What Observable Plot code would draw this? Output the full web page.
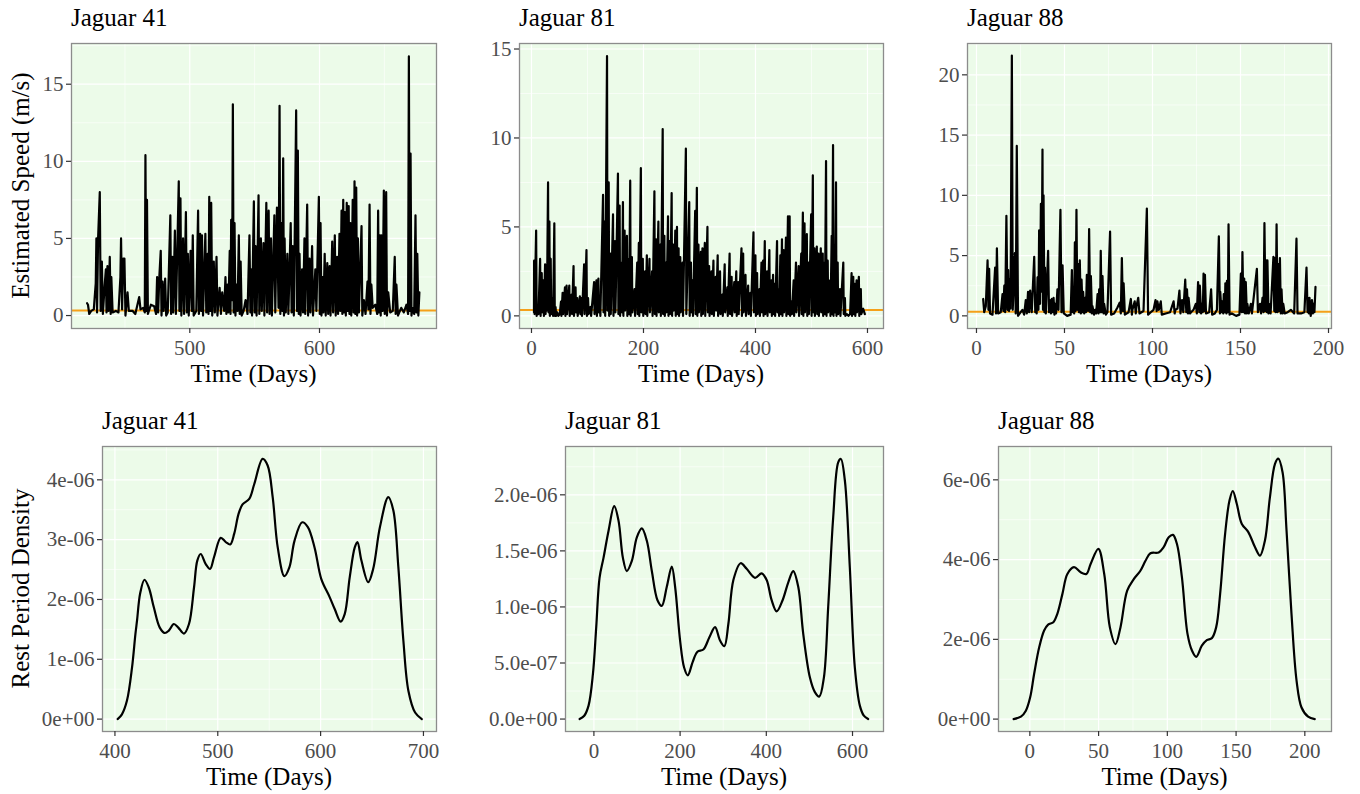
<!DOCTYPE html>
<html>
<head>
<meta charset="utf-8">
<script src="https://cdn.jsdelivr.net/npm/d3@7"></script>
<script src="https://cdn.jsdelivr.net/npm/@observablehq/plot@0.6"></script>
<style>
  html, body { margin: 0; padding: 0; background: #ffffff; }
  #root { position: relative; width: 1360px; height: 794px; overflow: hidden; font-family: "Liberation Serif", "Times New Roman", serif; }
  .cell { position: absolute; }
  .cell svg { overflow: visible; max-width: none; }
  .txt { position: absolute; font-family: "Liberation Serif", "Times New Roman", serif; color: #000; line-height: 1; white-space: nowrap; }
</style>
</head>
<body>
<div id="root"></div>
<script>
// ---------------- DATA ----------------
const titles = ["Jaguar 41", "Jaguar 81", "Jaguar 88"];
const xTitle = "Time (Days)";
const speedTitle = "Estimated Speed (m/s)";
const densityTitle = "Rest Period Density";
const restThreshold = 0.33; // orange reference line (m/s)

// Estimated speed, [day, m/s]
const jaguar41Speed = [[420.8,0.8],[421.5,0.7],[422.5,0.1],[424,0.3],[426,0.4],[427.5,2.1],[428,5.0],[428.5,0.2],[429.3,5.0],[430.6,8.0],[431.3,0.3],[432.2,3.5],[433,0.1],[434.4,2.0],[435.3,3.0],[435.8,0.2],[436.5,3.2],[437.3,0.3],[438.3,3.8],[439,0.1],[439.5,2.5],[440.5,0.2],[443,0.3],[445,0.2],[446.5,2.5],[447,5.0],[447.8,0.4],[448.7,3.7],[449.6,3.7],[450.4,0.0],[452,1.5],[453,0.3],[456,0.3],[458,0.1],[461,1.2],[462,0.4],[464,0.5],[465.3,0.2],[465.8,10.4],[466.5,0.3],[467,7.5],[467.7,0.1],[470,0.7],[472.5,0.6],[474,0.1],[474.8,2.5],[475.6,0.2],[476.5,2.5],[477.6,4.2],[478.2,0.0],[479,2.2],[479.8,0.3],[481,2.4],[481.8,0.0],[483,0.2],[485,6.5],[485.6,0.1],[486.5,3.8],[487.2,0.2],[488.5,5.5],[489.3,0.1],[491.5,8.7],[492,0.3],[492.8,7.6],[493.5,0.0],[494.8,5.0],[495.6,0.1],[497,6.7],[497.7,0.2],[498.5,4.0],[499.2,0.0],[500.6,4.2],[501.5,0.3],[502.3,5.2],[503,0.0],[505,0.3],[506.4,6.8],[507,0.1],[508,5.3],[508.7,0.3],[509.4,5.2],[510.2,0.0],[512,5.3],[512.7,0.2],[513.8,4.0],[514.4,0.1],[515,7.7],[515.8,0.3],[516.5,7.3],[517.3,0.0],[518.5,3.5],[519.3,0.2],[520.6,3.8],[521.3,0.0],[523,1.8],[524,0.1],[525,1.5],[526.5,0.3],[527.5,2.5],[528.2,0.1],[529,2.0],[529.7,0.2],[530.8,4.2],[531.4,0.1],[531.9,6.2],[532.6,1.0],[533.2,13.7],[533.8,0.2],[534.5,6.0],[535.2,0.0],[536,2.0],[536.8,0.3],[537.8,5.2],[538.5,0.1],[539.2,3.5],[540,0.0],[541.5,0.3],[543,1.0],[544.5,0.1],[546,5.2],[546.7,0.2],[547.3,3.0],[548,0.0],[549.4,7.4],[550,0.2],[550.7,4.5],[551.5,0.0],[553,7.8],[553.6,0.1],[554.8,5.0],[555.5,0.3],[556.8,4.7],[557.5,0.0],[559,7.3],[559.6,0.2],[560.8,6.8],[561.5,0.1],[562.6,5.0],[563.3,0.0],[565.2,6.5],[565.9,0.2],[567.2,7.0],[568.4,0.5],[569.2,13.6],[569.8,0.1],[570.5,6.0],[571.3,0.3],[572,10.2],[572.6,0.0],[573.1,5.0],[574,0.2],[575.2,4.0],[576,0.1],[577.8,6.0],[578.5,0.2],[579.3,4.5],[580.2,0.0],[582,13.3],[582.6,0.3],[583.3,10.7],[584,0.1],[584.6,4.0],[585.4,0.0],[586.6,3.0],[587.3,0.2],[588.4,5.0],[589,0.1],[590.5,7.2],[591.2,0.0],[592.3,3.7],[593,0.2],[594.3,4.5],[595,0.0],[596.8,3.0],[597.6,0.3],[599.5,7.7],[600.2,0.1],[600.8,6.0],[601.5,0.0],[602.2,2.5],[603,0.2],[604,4.0],[604.8,0.0],[606,3.4],[606.7,0.1],[607.8,3.2],[608.5,0.0],[609.8,4.8],[610.5,0.2],[611.8,5.2],[612.5,0.0],[613.6,3.8],[614.3,0.1],[615.4,5.3],[616,0.3],[617,6.8],[617.6,0.1],[618.3,7.5],[619,0.2],[619.6,6.7],[620.3,0.0],[621,7.3],[621.6,0.3],[622.5,7.1],[623.1,0.1],[623.8,6.0],[624.5,0.0],[625.6,7.5],[626.3,0.2],[627,8.7],[627.6,0.1],[628.3,8.3],[629,0.0],[629.6,5.0],[630.4,0.2],[632.4,5.8],[633,0.0],[634.2,1.0],[635.5,0.1],[637,2.2],[637.7,0.4],[638.6,7.2],[639.3,0.1],[640,2.0],[641,0.5],[643,0.7],[644.5,0.1],[645.2,6.8],[645.8,0.2],[646.5,5.2],[647.2,0.0],[647.8,5.2],[648.6,0.3],[649.6,8.1],[650.3,0.1],[651.4,8.0],[652,0.0],[653,1.5],[654.5,0.2],[656.5,0.3],[658,3.8],[658.7,0.1],[659.3,2.0],[660.5,0.0],[663,0.5],[665,0.2],[667,0.7],[668.3,0.1],[668.9,16.8],[669.5,0.3],[670.2,10.5],[670.9,0.0],[671.5,0.5],[673,0.1],[674,6.5],[674.7,0.2],[675.4,4.0],[676.2,0.0],[677,1.5]];

const jaguar81Speed = [[4.5,0.2],[4.7,3.1],[5.5,0.1],[8.3,4.8],[9.2,0.0],[11,0.5],[12.5,0.1],[15.4,3.2],[16.3,0.0],[18.3,2.4],[19.2,0.2],[21.3,2.0],[22.2,0.0],[24.3,2.9],[25.2,0.1],[26,1.8],[27.5,0.3],[29.6,7.5],[30.4,0.2],[32,5.3],[32.8,0.0],[34.3,3.2],[35.2,0.1],[37.9,1.0],[38.6,0.0],[40.8,5.2],[41.6,0.0],[43,0.5],[44,0.0],[46,0.2],[48,0.0],[50.5,0.1],[52.7,0.8],[53.5,0.0],[55.6,1.3],[56.4,0.1],[59.8,1.6],[60.6,0.0],[62.7,1.7],[63.5,0.1],[67.5,1.7],[68.3,0.0],[71.6,1.2],[72.4,0.1],[75.1,2.8],[75.9,0.0],[78.7,1.6],[79.5,0.2],[81.6,1.0],[82.5,0.0],[86.4,1.1],[87.2,0.1],[89.3,1.0],[90.2,0.0],[94,2.9],[94.8,0.1],[98.2,3.7],[99,0.0],[101,1.0],[102,0.1],[105.3,0.5],[106.5,0.0],[111.8,1.9],[112.6,0.1],[116,2.0],[116.8,0.0],[119.5,2.1],[120.3,0.2],[122,0.8],[123,0.0],[127.8,6.8],[128.6,0.2],[130.8,5.3],[131.6,0.0],[134.9,14.6],[135.7,0.3],[137.9,7.5],[138.7,0.0],[140.8,3.5],[141.6,0.1],[145.6,5.7],[146.4,0.0],[149.1,4.2],[149.9,0.2],[154.4,8.0],[155.2,0.1],[157.4,6.2],[158.2,0.0],[160.9,3.0],[161.7,0.2],[163.3,6.4],[164.1,0.0],[166.3,4.8],[167.1,0.3],[170.4,4.5],[171.2,0.0],[173.4,3.2],[174.2,0.1],[176.3,7.6],[177.1,0.0],[179.3,3.3],[180.1,0.2],[184,1.5],[185,0.0],[188.8,3.0],[189.6,0.1],[191.7,4.1],[192.5,0.0],[195.3,8.3],[196.1,0.2],[198.8,3.2],[199.6,0.0],[202.9,2.5],[203.7,0.1],[206,3.4],[206.8,0.0],[210.7,3.2],[211.5,0.2],[215.4,2.5],[216.2,0.0],[219.5,7.0],[220.3,0.1],[222.5,4.3],[223.3,0.0],[226.6,5.3],[227.4,0.2],[230.2,4.0],[231,0.0],[234.3,10.5],[235.1,0.1],[237.3,4.5],[238.1,0.0],[240.2,3.0],[241,0.2],[243.8,5.6],[244.6,0.0],[246.7,4.2],[247.5,0.1],[250.3,6.9],[251.1,0.0],[253.3,4.0],[254.1,0.3],[256.8,4.8],[257.6,0.0],[259.8,5.0],[260.6,0.1],[262.7,3.8],[263.5,0.0],[265.7,3.3],[266.5,0.2],[269.8,3.0],[270.6,0.0],[275.7,9.4],[276.5,0.1],[281.7,6.4],[282.5,0.0],[284.7,3.0],[285.5,0.2],[287.6,2.0],[288.4,0.0],[292.3,5.9],[293.1,0.1],[295.3,7.2],[296.1,0.0],[298.2,4.0],[299,0.2],[302.4,3.6],[303.2,0.0],[305.3,3.8],[306.1,0.1],[309.5,4.1],[310.3,0.0],[314.2,5.0],[315,0.2],[317.2,2.8],[318,0.0],[321.3,2.5],[322.1,0.1],[324.9,3.1],[325.7,0.0],[329,2.2],[329.8,0.3],[332.5,3.4],[333.3,0.0],[336.7,2.5],[337.5,0.1],[340.8,1.2],[341.6,0.0],[345,2.9],[345.8,0.2],[349.7,1.6],[350.5,0.0],[353.8,3.5],[354.6,0.1],[357.4,2.2],[358.2,0.0],[362.1,1.9],[362.9,0.2],[365.7,2.5],[366.5,0.0],[369.2,1.9],[370,0.1],[375,3.8],[375.8,0.0],[378,3.5],[378.8,0.2],[382.2,2.3],[383,0.0],[386.9,1.7],[387.7,0.1],[391,1.3],[391.8,0.0],[396.4,4.7],[397.2,0.2],[399.9,3.4],[400.7,0.0],[402.9,2.4],[403.7,0.1],[407.1,1.5],[407.9,0.0],[410.7,3.0],[411.5,0.2],[413.6,3.1],[414.4,0.0],[416.6,4.2],[417.4,0.1],[420.7,2.5],[421.5,0.0],[424.8,3.7],[425.6,0.2],[428.4,2.0],[429.2,0.0],[431.4,2.3],[432.2,0.1],[434.3,1.8],[435.1,0.0],[438.5,4.2],[439.3,0.2],[441.4,1.5],[442.2,0.0],[444.4,3.4],[445.2,0.1],[447.3,4.3],[448.1,0.0],[450.3,3.7],[451.1,0.2],[454.4,4.4],[455.2,0.0],[458,5.6],[458.8,0.1],[461,5.6],[461.8,0.0],[464,0.8],[465,0.1],[468.2,2.0],[469,0.0],[472.3,3.0],[473.1,0.2],[477,2.8],[477.8,0.0],[481.7,3.5],[482.5,0.1],[484.6,5.8],[485.4,0.0],[487.6,5.2],[488.4,0.2],[491.7,4.6],[492.5,0.0],[494.7,3.0],[495.5,0.1],[499.4,5.7],[500.2,0.0],[502.4,7.9],[503.2,0.2],[505.3,3.8],[506.1,0.0],[509.5,3.9],[510.3,0.1],[512.4,3.5],[513.2,0.0],[516.6,3.8],[517.4,0.2],[520.1,3.5],[520.9,0.0],[523.1,3.0],[523.9,0.1],[526,8.7],[526.8,0.0],[529,3.1],[529.8,0.2],[533.1,2.0],[533.9,0.0],[536.1,4.5],[536.9,0.1],[538.5,9.6],[539.3,0.0],[541.2,4.0],[542,0.2],[543.8,7.5],[544.6,0.0],[546.8,3.0],[547.6,0.1],[550.9,1.5],[551.7,0.0],[556.8,3.0],[557.6,0.1],[559.7,1.0],[560.5,0.0],[563,0.1],[566,0.0],[569,0.1],[571.6,2.4],[572.4,0.0],[574.6,2.2],[575.4,0.1],[577.5,1.8],[578.3,0.0],[580.5,2.0],[581.3,0.2],[584.6,2.2],[585.4,0.0],[588.1,1.5],[588.9,0.1],[592.3,0.4],[595.3,0.1]];

const jaguar88Speed = [[3.8,1.4],[4.4,0.3],[5.3,0.8],[6.3,4.6],[6.8,0.5],[7.2,3.9],[7.7,0.2],[9.1,0.1],[10.6,4.0],[11.1,0.2],[11.6,5.6],[12.3,0.2],[13.8,0.3],[14.8,1.8],[15.3,0.4],[15.8,2.5],[16.3,0.3],[17.0,8.3],[17.6,0.5],[18.0,3.8],[18.5,0.4],[18.8,3.0],[19.3,0.6],[19.5,4.8],[20.1,21.6],[20.6,0.5],[21.8,5.2],[22.3,0.2],[22.9,14.1],[23.6,0.0],[24.6,0.2],[26.1,0.5],[27.1,0.1],[28.0,1.3],[28.6,0.2],[29.3,2.0],[29.9,0.3],[30.5,2.1],[31.4,0.3],[32.8,4.9],[33.4,0.3],[33.7,1.5],[34.2,0.2],[34.7,3.2],[35.2,0.5],[35.6,7.1],[36.1,1.0],[36.6,9.3],[37.0,2.0],[37.5,13.8],[37.8,0.5],[38.1,10.0],[38.6,0.3],[38.9,4.0],[39.4,0.2],[40.7,5.4],[41.2,0.3],[41.7,1.3],[42.3,0.2],[42.8,1.4],[43.3,0.3],[43.8,1.5],[44.3,0.1],[44.7,1.0],[45.2,0.2],[46.0,2.2],[46.6,0.5],[47.7,8.8],[48.3,0.3],[48.9,4.2],[49.6,0.2],[51.5,0.0],[53.5,0.1],[54.2,3.8],[54.7,0.3],[55.1,1.5],[55.5,0.2],[55.9,6.1],[56.3,0.4],[56.8,8.8],[57.3,0.5],[57.8,4.3],[58.2,0.3],[58.7,4.6],[59.3,0.2],[59.7,3.0],[60.3,0.3],[60.6,2.0],[61.2,0.2],[61.7,1.5],[62.2,0.3],[62.7,3.4],[63.4,0.4],[64.0,7.2],[64.6,0.3],[65.0,3.3],[65.6,0.2],[65.9,0.8],[66.8,0.1],[67.4,0.5],[68.0,0.2],[68.8,1.8],[69.3,0.2],[69.7,2.2],[70.2,0.3],[70.6,5.4],[71.1,0.3],[71.6,3.3],[72.2,0.2],[72.5,1.0],[73.5,0.1],[74.4,0.3],[75.9,7.0],[76.5,0.1],[78.2,0.2],[80.1,0.7],[81.4,1.1],[82.0,0.2],[82.6,4.8],[83.2,0.4],[83.6,2.7],[84.3,0.1],[86.4,0.3],[87.7,1.4],[88.3,0.1],[88.6,0.5],[89.9,1.2],[90.5,0.2],[90.9,0.8],[91.9,1.5],[92.6,0.2],[94.9,0.4],[96.8,8.9],[97.5,0.1],[99.0,0.3],[100.6,0.5],[101.7,1.3],[102.4,0.4],[102.8,1.2],[103.6,0.5],[104.7,1.2],[105.3,0.1],[107.5,0.2],[110.0,0.3],[112.0,1.2],[112.6,0.2],[113.0,0.5],[114.2,0.6],[115.3,2.1],[115.9,0.2],[116.8,1.3],[117.5,0.3],[118.6,3.0],[119.2,0.3],[119.6,2.2],[120.2,0.2],[120.5,1.5],[121.3,0.2],[121.9,0.3],[123.3,0.5],[124.6,1.0],[125.2,0.2],[125.9,2.8],[126.6,0.3],[126.9,2.5],[127.6,0.2],[128.1,1.0],[128.6,0.3],[129.0,3.5],[129.5,0.4],[129.8,3.4],[130.4,0.2],[132.2,0.3],[133.3,2.2],[133.9,0.1],[135.4,0.2],[136.6,0.5],[137.7,6.6],[138.3,0.2],[138.5,2.0],[139.2,0.3],[139.6,1.2],[140.2,0.2],[140.5,1.8],[141.1,0.3],[141.4,2.7],[142.0,0.2],[142.3,2.9],[142.8,0.3],[143.2,7.6],[143.8,0.1],[145.1,0.2],[147.5,0.0],[149.4,0.1],[150.2,3.5],[150.7,0.3],[151.1,5.3],[151.7,0.3],[152.1,3.1],[152.6,0.2],[153.0,2.8],[153.6,0.2],[153.9,1.0],[154.7,0.2],[155.9,1.0],[156.5,0.2],[159.3,3.9],[159.9,0.3],[161.1,1.0],[161.7,0.2],[162.5,1.5],[163.1,0.3],[163.6,7.7],[164.2,0.4],[164.6,4.6],[165.0,0.3],[165.3,4.6],[165.9,0.2],[166.2,1.0],[167.1,0.2],[168.7,4.9],[169.2,0.4],[169.6,4.8],[170.0,0.3],[170.5,7.6],[171.0,0.3],[171.4,4.3],[171.9,0.4],[172.4,4.8],[172.9,0.2],[173.3,2.2],[173.9,0.2],[174.3,1.0],[175.1,0.2],[176.8,0.3],[178.6,0.5],[180.5,0.2],[181.8,6.4],[182.4,0.2],[184.4,0.2],[186.3,0.3],[187.5,4.0],[188.1,0.3],[188.4,1.5],[188.9,0.2],[189.2,1.5],[189.9,0.0],[190.6,1.3],[191.1,0.2],[191.5,1.0],[192.0,0.3],[192.6,2.4]];

// Rest period density, [day, density in units of 1e-6]
const jaguar41Density = [[402.6,0.0],[406.8,0.08],[411.7,0.31],[416.6,0.86],[419.9,1.42],[421.5,1.65],[424.5,2.1],[428.7,2.33],[432.9,2.2],[437.8,1.87],[443.6,1.53],[448.5,1.44],[452.4,1.48],[457.3,1.59],[461.6,1.53],[467.1,1.43],[472,1.59],[476.9,2.2],[480.1,2.65],[483.4,2.76],[488.3,2.59],[492.5,2.51],[496.4,2.71],[502.9,3.03],[507.8,2.96],[512.1,2.92],[516,3.10],[520.2,3.43],[524.1,3.59],[530.6,3.68],[535.5,3.93],[543.6,4.35],[548.5,4.24],[553.4,3.71],[558.3,2.87],[564.8,2.39],[569.7,2.54],[574.6,2.98],[582.1,3.29],[587.6,3.21],[594.1,2.87],[600.7,2.34],[608.8,2.04],[613.7,1.84],[619.5,1.63],[623.5,1.76],[628.3,2.37],[633.2,2.87],[635.8,2.96],[639.7,2.65],[646.3,2.29],[651.1,2.51],[657.7,3.21],[665.8,3.71],[670.7,3.49],[675.6,2.54],[680.5,1.31],[685.4,0.47],[691.9,0.11],[698.4,0.0]];

const jaguar81Density = [[-33.2,0.0],[-22.4,0.03],[-12.4,0.12],[-2.3,0.40],[5.4,0.82],[13.1,1.26],[22.4,1.44],[34,1.68],[47.1,1.90],[57.1,1.77],[67.2,1.44],[76.4,1.32],[88,1.41],[99.6,1.62],[111.2,1.70],[122.8,1.59],[134.4,1.32],[147.5,1.06],[157.5,1.01],[169.1,1.18],[180.7,1.36],[188.4,1.18],[200,0.70],[209.3,0.46],[217.8,0.39],[229.3,0.51],[240.2,0.60],[254,0.62],[268,0.73],[281.1,0.82],[292.7,0.70],[302.7,0.65],[312,0.85],[323.6,1.24],[340.5,1.39],[354.4,1.34],[373.7,1.26],[389.2,1.30],[400.8,1.24],[412.4,1.06],[424,0.96],[437.8,1.06],[451,1.22],[462.5,1.32],[474.1,1.18],[485.7,0.76],[501.2,0.37],[512.7,0.24],[522.8,0.20],[533.6,0.37],[543.6,1.00],[555.2,1.80],[566.8,2.29],[573,2.32],[582.2,2.13],[593.8,1.35],[605.4,0.46],[617,0.12],[626.3,0.03],[636.3,0.0]];

const jaguar88Density = [[-11.8,0.0],[-6.5,0.06],[-2.9,0.21],[0.2,0.54],[3.1,1.13],[6.8,1.80],[10.4,2.22],[13.3,2.37],[17.1,2.43],[20,2.64],[23.7,3.14],[27.3,3.64],[32.1,3.81],[37,3.68],[41.1,3.64],[44.2,3.89],[49.8,4.27],[54.1,3.64],[58.2,2.30],[62.3,1.88],[65.9,2.30],[70.8,3.22],[75.6,3.51],[80.4,3.72],[84.1,3.97],[87.7,4.16],[93.7,4.18],[97.3,4.31],[101,4.56],[104.1,4.62],[107,4.39],[110.6,3.56],[114.7,2.13],[117.9,1.72],[121,1.56],[125.1,1.84],[128.7,1.98],[132.4,2.03],[135.5,2.30],[138.4,3.14],[142,4.64],[145.2,5.48],[147.6,5.72],[150.5,5.40],[154.1,4.90],[158.9,4.69],[163.8,4.31],[167.4,4.10],[171,4.48],[174.6,5.56],[178.3,6.40],[180.7,6.53],[183.8,6.19],[186.7,4.73],[190.3,2.64],[194,0.96],[197.6,0.29],[202.4,0.06],[207.2,0.0]];

// Axis ticks (major) and minor grid positions, with tick labels
const j41SpeedXTicks = [500, 600];
const j41SpeedXMinor = [450, 550, 650];
const j81SpeedXTicks = [0, 200, 400, 600];
const j81SpeedXMinor = [100, 300, 500];
const j88SpeedXTicks = [0, 50, 100, 150, 200];
const j88SpeedXMinor = [25, 75, 125, 175];
const j41SpeedYTicks = [0, 5, 10, 15];
const j41SpeedYMinor = [2.5, 7.5, 12.5, 17.5];
const j81SpeedYTicks = [0, 5, 10, 15];
const j81SpeedYMinor = [2.5, 7.5, 12.5];
const j88SpeedYTicks = [0, 5, 10, 15, 20];
const j88SpeedYMinor = [2.5, 7.5, 12.5, 17.5, 22.5];

const j41DensXTicks = [400, 500, 600, 700];
const j41DensXMinor = [450, 550, 650];
const j81DensXTicks = [0, 200, 400, 600];
const j81DensXMinor = [100, 300, 500];
const j88DensXTicks = [0, 50, 100, 150, 200];
const j88DensXMinor = [25, 75, 125, 175];
const j41DensYTicks = [0, 1e-6, 2e-6, 3e-6, 4e-6];
const j41DensYLabels = ["0e+00", "1e-06", "2e-06", "3e-06", "4e-06"];
const j41DensYMinor = [0.5e-6, 1.5e-6, 2.5e-6, 3.5e-6, 4.5e-6];
const j81DensYTicks = [0, 0.5e-6, 1e-6, 1.5e-6, 2e-6];
const j81DensYLabels = ["0.0e+00", "5.0e-07", "1.0e-06", "1.5e-06", "2.0e-06"];
const j81DensYMinor = [0.25e-6, 0.75e-6, 1.25e-6, 1.75e-6, 2.25e-6];
const j88DensYTicks = [0, 2e-6, 4e-6, 6e-6];
const j88DensYLabels = ["0e+00", "2e-06", "4e-06", "6e-06"];
const j88DensYMinor = [1e-6, 3e-6, 5e-6];

// ---------------- LAYOUT / STYLE ----------------
const BG = "#ecfbe9";
const BORDER = "#8c8c8c";
const TICK_TEXT = "#4d4d4d";
const TICK_LINE = "#333333";
const ORANGE = "#f5a01a";
const FONT = "'Liberation Serif', 'Times New Roman', serif";

const panels = [
  {kind: "speed", title: titles[0], data: jaguar41Speed, left: 71, right: 436, top: 43, bottom: 328,
   xDomain: [408.8, 690.2], yDomain: [-0.84, 17.64],
   xTicks: j41SpeedXTicks, xMinor: j41SpeedXMinor, yTicks: j41SpeedYTicks, yMinor: j41SpeedYMinor, yLabels: null, yTitle: speedTitle},
  {kind: "speed", title: titles[1], data: jaguar81Speed, left: 519, right: 883, top: 43, bottom: 328,
   xDomain: [-21.4, 628.6], yDomain: [-0.71, 15.31],
   xTicks: j81SpeedXTicks, xMinor: j81SpeedXMinor, yTicks: j81SpeedYTicks, yMinor: j81SpeedYMinor, yLabels: null},
  {kind: "speed", title: titles[2], data: jaguar88Speed, left: 967, right: 1331, top: 43, bottom: 328,
   xDomain: [-5.1, 201.7], yDomain: [-1.05, 22.6],
   xTicks: j88SpeedXTicks, xMinor: j88SpeedXMinor, yTicks: j88SpeedYTicks, yMinor: j88SpeedYMinor, yLabels: null},
  {kind: "density", title: titles[0], data: jaguar41Density, left: 102, right: 436, top: 446, bottom: 731,
   xDomain: [387.9, 712.7], yDomain: [-0.207e-6, 4.557e-6],
   xTicks: j41DensXTicks, xMinor: j41DensXMinor, yTicks: j41DensYTicks, yMinor: j41DensYMinor, yLabels: j41DensYLabels, yTitle: densityTitle},
  {kind: "density", title: titles[1], data: jaguar81Density, left: 565, right: 883, top: 446, bottom: 731,
   xDomain: [-65.9, 671.9], yDomain: [-0.111e-6, 2.431e-6],
   xTicks: j81DensXTicks, xMinor: j81DensXMinor, yTicks: j81DensYTicks, yMinor: j81DensYMinor, yLabels: j81DensYLabels},
  {kind: "density", title: titles[2], data: jaguar88Density, left: 998, right: 1331, top: 446, bottom: 731,
   xDomain: [-22.8, 219.4], yDomain: [-0.311e-6, 6.836e-6],
   xTicks: j88DensXTicks, xMinor: j88DensXMinor, yTicks: j88DensYTicks, yMinor: j88DensYMinor, yLabels: j88DensYLabels}
];

const root = document.getElementById("root");
const mL = 100, mR = 6, mT = 6, mB = 44;

function addText(str, left, top, size, extra) {
  const d = document.createElement("div");
  d.className = "txt";
  d.textContent = str;
  d.style.left = left + "px";
  d.style.top = top + "px";
  d.style.fontSize = size + "px";
  if (extra) Object.assign(d.style, extra);
  root.appendChild(d);
  return d;
}

for (const p of panels) {
  const W = p.right - p.left, H = p.bottom - p.top;
  const yLabelMap = p.yLabels ? new Map(p.yTicks.map((t, i) => [t, p.yLabels[i]])) : null;
  const marks = [
    Plot.frame({fill: BG, stroke: null}),
    Plot.gridX(p.xMinor, {stroke: "#ffffff", strokeOpacity: 1, strokeWidth: 0.6}),
    Plot.gridY(p.yMinor, {stroke: "#ffffff", strokeOpacity: 1, strokeWidth: 0.6}),
    Plot.gridX(p.xTicks, {stroke: "#ffffff", strokeOpacity: 1, strokeWidth: 1.2}),
    Plot.gridY(p.yTicks, {stroke: "#ffffff", strokeOpacity: 1, strokeWidth: 1.2})
  ];
  if (p.kind === "speed") {
    marks.push(Plot.ruleY([restThreshold], {stroke: ORANGE, strokeWidth: 2}));
    marks.push(Plot.line(p.data, {x: d => d[0], y: d => d[1], stroke: "#000", strokeWidth: 2.2}));
  } else {
    marks.push(Plot.line(p.data, {x: d => d[0], y: d => d[1] * 1e-6, stroke: "#000", strokeWidth: 2.2, curve: "catmull-rom"}));
  }
  marks.push(Plot.frame({stroke: BORDER, strokeWidth: 1.3}));
  marks.push(Plot.axisX(p.xTicks, {tickSize: 5, tickPadding: 7, fontSize: 21, fill: TICK_TEXT, stroke: TICK_LINE, strokeWidth: 1.2, label: null, tickFormat: d => String(d)}));
  marks.push(Plot.axisY(p.yTicks, {tickSize: 5, tickPadding: 3, fontSize: 21, fill: TICK_TEXT, stroke: TICK_LINE, strokeWidth: 1.2, label: null,
    tickFormat: yLabelMap ? (d => yLabelMap.get(d)) : (d => String(d))}));

  const svg = Plot.plot({
    width: W + mL + mR,
    height: H + mT + mB,
    marginLeft: mL, marginRight: mR, marginTop: mT, marginBottom: mB,
    x: {domain: p.xDomain},
    y: {domain: p.yDomain},
    style: {fontFamily: FONT, background: "transparent", overflow: "visible"},
    marks
  });
  const cell = document.createElement("div");
  cell.className = "cell";
  cell.style.left = (p.left - mL) + "px";
  cell.style.top = (p.top - mT) + "px";
  cell.style.width = (W + mL + mR) + "px";
  cell.style.height = (H + mT + mB) + "px";
  cell.appendChild(svg);
  root.appendChild(cell);

  // panel title
  addText(p.title, p.left, p.top - 38, 25);
  // x axis title
  addText(xTitle, p.left + W / 2 - 150, p.bottom + 33, 25, {width: "300px", textAlign: "center"});
  // y axis title, rotated
  if (p.yTitle) {
    const cy = (p.top + p.bottom) / 2;
    addText(p.yTitle, 20 - 200, cy - 12.5, 25, {width: "400px", height: "25px", textAlign: "center", transform: "rotate(-90deg)", transformOrigin: "50% 50%"});
  }
}
</script>
</body>
</html>
